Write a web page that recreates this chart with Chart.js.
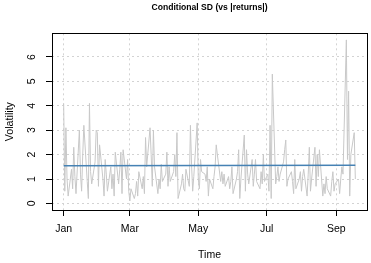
<!DOCTYPE html>
<html>
<head>
<meta charset="utf-8">
<script src="https://cdn.jsdelivr.net/npm/chart.js@4.4.1/dist/chart.umd.min.js"></script>
<style>
  html, body { margin: 0; padding: 0; background: #fff; }
  #wrap { width: 371px; height: 263px; }
</style>
</head>
<body>
<div id="wrap"><canvas id="volChart"></canvas></div>
<script>
/* Conditional SD against absolute daily returns (trading days) */
var startDate = '2018-01-01';

var absReturns = [
    4.1, 0.5, 3.1, 1.0, 0.3, 1.4, 0.6, 2.3, 1.1, 0.4,
    3.0, 1.2, 0.5, 2.0, 3.2, 0.9, 0.2, 4.1, 1.3, 0.8,
    1.7, 3.0, 2.9, 0.7, 2.4, 1.0, 0.3, 1.8, 1.2, 0.5,
    1.5, 0.6, 1.2, 0.3, 2.1, 0.8, 1.4, 2.1, 0.4, 2.2,
    1.0, 1.8, 0.5, 0.1, 0.6, 0.2, 0.4, 0.9, 0.3, 1.3,
    0.6, 1.1, 0.4, 2.7, 1.5, 3.1, 2.0, 0.7, 3.0, 1.5,
    0.4, 1.0, 0.6, 1.6, 0.9, 1.2, 2.1, 0.7, 1.5, 0.9,
    1.3, 2.0, 1.1, 2.9, 0.2, 0.8, 1.2, 0.6, 0.5, 1.4,
    0.7, 3.2, 1.6, 0.5, 1.1, 3.3, 1.0, 0.6, 1.8, 1.3,
    1.2, 0.9, 1.5, 0.3, 1.0, 0.6, 1.1, 1.5, 2.4, 2.0,
    0.9, 1.3, 0.8, 1.2, 0.7, 1.1, 0.6, 0.9, 1.5, 0.4,
    1.0, 1.3, 2.2, 0.2, 1.0, 2.8, 0.5, 2.2, 1.2, 0.8,
    1.8, 0.7, 1.2, 1.8, 0.9, 0.6, 1.3, 0.8, 2.0, 0.9,
    1.2, 0.5, 3.2, 0.2, 5.3, 0.8, 1.1, 1.5, 0.9, 1.2,
    1.7, 2.2, 2.6, 0.7, 1.0, 1.3, 0.9, 0.4, 1.8, 0.6,
    1.0, 1.3, 0.5, 1.1, 1.4, 0.3, 1.2, 2.3, 0.5, 1.0,
    2.3, 0.7, 2.0, 1.1, 2.2, 0.3, 0.8, 0.4, 1.1, 0.6,
    0.3, 0.9, 1.3, 0.5, 0.8, 1.0, 0.4, 1.0, 1.5, 1.2,
    6.7, 1.8, 4.6, 0.3, 2.0, 2.9, 1.0
];
var condSD = [1.54, 1.56];   // first and last day

var monthLabels = ['Jan', 'Mar', 'May', 'Jul', 'Sep'];
var monthStarts = ['2018-01-01', '2018-03-01', '2018-05-01', '2018-07-01', '2018-09-01'];
var yTicks = [0, 1, 2, 3, 4, 5, 6];

var DAY = 86400000;
var t0 = Date.parse(startDate + 'T00:00:00Z');
function dayOf(s) { return (Date.parse(s + 'T00:00:00Z') - t0) / DAY; }

// weekdays only
var days = [];
var cur = new Date(t0);
while (days.length < absReturns.length) {
    var wd = cur.getUTCDay();
    if (wd !== 0 && wd !== 6) days.push((cur.getTime() - t0) / DAY);
    cur.setUTCDate(cur.getUTCDate() + 1);
}
var monthDays = monthStarts.map(dayOf);

var firstDay = days[0], lastDay = days[days.length - 1];
var xPad = (lastDay - firstDay) * 0.04;

var retPoints = days.map(function (d, i) { return { x: d, y: absReturns[i] }; });
var sdPoints = [{ x: firstDay, y: condSD[0] }, { x: lastDay, y: condSD[1] }];

var boxPlugin = {
    id: 'plotBox',
    afterDraw: function (chart) {
        var a = chart.chartArea, c = chart.ctx;
        c.save();
        c.strokeStyle = '#000';
        c.lineWidth = 1;
        c.strokeRect(Math.round(a.left) + 0.5, Math.round(a.top) + 0.5,
            Math.round(a.right - a.left), Math.round(a.bottom - a.top));
        c.restore();
    }
};

var font = 'Liberation Sans, Arial, sans-serif';
var gridOpts = { color: '#d3d3d3', lineWidth: 1, tickColor: '#000', tickLength: 6, tickWidth: 1, tickBorderDash: [] };

new Chart(document.getElementById('volChart').getContext('2d'), {
    type: 'line',
    data: {
        datasets: [{
            label: 'Conditional SD',
            data: sdPoints,
            borderColor: '#4682b4',
            borderWidth: 1.5,
            pointRadius: 0,
            order: 0
        }, {
            label: '|returns|',
            data: retPoints,
            borderColor: '#c8c8c8',
            borderWidth: 1,
            pointRadius: 0,
            tension: 0,
            order: 1
        }]
    },
    options: {
        responsive: true,
        maintainAspectRatio: false,
        animation: false,
        layout: { padding: { top: 0, right: 4, bottom: 0, left: 0 } },
        plugins: {
            legend: { display: false },
            tooltip: { enabled: false },
            title: {
                display: true,
                text: 'Conditional SD (vs |returns|)',
                fullSize: false,
                color: '#000',
                font: { family: font, size: 8.6, weight: 'bold' },
                padding: { top: 2, bottom: 21 }
            }
        },
        scales: {
            x: {
                type: 'linear',
                min: firstDay - xPad,
                max: lastDay + xPad,
                afterBuildTicks: function (s) {
                    s.ticks = monthDays.map(function (v) { return { value: v }; });
                },
                afterFit: function (s) { s.height = 53; },
                ticks: {
                    autoSkip: false,
                    maxRotation: 0,
                    color: '#000',
                    padding: 7,
                    font: { family: font, size: 10.5 },
                    callback: function (v) { return monthLabels[monthDays.indexOf(v)]; }
                },
                grid: gridOpts,
                border: { display: false, dash: [2, 3] },
                title: {
                    display: true,
                    text: 'Time',
                    color: '#000',
                    font: { family: font, size: 10.5 },
                    padding: { top: 0, bottom: 2 }
                }
            },
            y: {
                min: -0.27,
                max: 6.97,
                afterBuildTicks: function (s) {
                    s.ticks = yTicks.map(function (v) { return { value: v }; });
                },
                afterFit: function (s) { s.width = 52; },
                ticks: {
                    color: '#000',
                    padding: 11,
                    minRotation: 90,
                    maxRotation: 90,
                    crossAlign: 'center',
                    font: { family: font, size: 10.5 }
                },
                grid: gridOpts,
                border: { display: false, dash: [2, 3] },
                title: {
                    display: true,
                    text: 'Volatility',
                    color: '#000',
                    font: { family: font, size: 10.7 },
                    padding: { top: 4, bottom: 0 }
                }
            }
        }
    },
    plugins: [boxPlugin]
});
</script>
</body>
</html>
